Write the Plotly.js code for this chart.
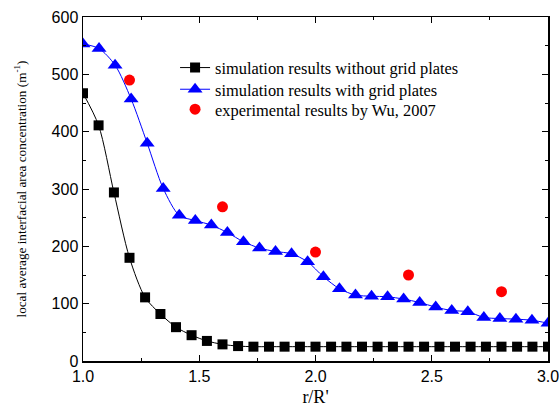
<!DOCTYPE html>
<html>
<head>
<meta charset="utf-8">
<script src="https://cdn.plot.ly/plotly-3.0.1.min.js"></script>
<style>html,body{margin:0;padding:0;background:#fff;}#chart{width:560px;height:408px;}</style>
</head>
<body>
<div id="chart"></div>
<script>
// simulation results without grid plates
const xNoGrid = [1.000, 1.067, 1.133, 1.200, 1.267, 1.333, 1.400, 1.467, 1.533, 1.600,
                 1.667, 1.733, 1.800, 1.867, 1.933, 2.000, 2.067, 2.133, 2.200, 2.267,
                 2.333, 2.400, 2.467, 2.533, 2.600, 2.667, 2.733, 2.800, 2.867, 2.933, 3.000];
const yNoGrid = [467, 411, 294, 180, 111, 82, 59, 45, 35, 29,
                 26, 25, 25, 25, 25, 25, 25, 25, 25, 25,
                 25, 25, 25, 25, 25, 25, 25, 25, 25, 25, 25];
// simulation results with grid plates
const xGrid = [1.000, 1.069, 1.138, 1.207, 1.276, 1.345, 1.414, 1.483, 1.552, 1.621,
               1.690, 1.759, 1.828, 1.897, 1.966, 2.034, 2.103, 2.172, 2.241, 2.310,
               2.379, 2.448, 2.517, 2.586, 2.655, 2.724, 2.793, 2.862, 2.931, 3.000];
const yGrid = [553, 545, 516, 457, 380, 301, 254, 245, 237, 224,
               208, 197, 191, 187, 173, 147, 126, 115, 113, 112,
               108, 102, 94, 88, 86, 76, 74, 73, 71, 66];
// experimental results by Wu, 2007
const xExp = [1.2, 1.6, 2.0, 2.4, 2.8];
const yExp = [490, 269, 190, 150, 121];

const names = ['simulation results without grid plates',
               'simulation results with grid plates',
               'experimental results by Wu, 2007'];

const serif = 'Liberation Serif, Times New Roman, serif';
const sans = 'Liberation Sans, Arial, sans-serif';

const traces = [
  {x: xNoGrid, y: yNoGrid, name: names[0], type: 'scatter', mode: 'lines+markers', legend: 'legend',
   line: {color: '#000000', width: 1, shape: 'spline', smoothing: 0.8},
   marker: {symbol: 'square', size: 10, color: '#000000'}},
  {x: xGrid, y: yGrid, name: names[1], type: 'scatter', mode: 'lines+markers', legend: 'legend2',
   line: {color: '#0000ff', width: 1, shape: 'spline', smoothing: 0.8},
   marker: {symbol: 'triangle-up', size: 13, color: '#0000ff'}},
  {x: xExp, y: yExp, name: names[2], type: 'scatter', mode: 'markers', legend: 'legend3',
   marker: {symbol: 'circle', size: 11, color: '#ff0000'}}
];

const axisCommon = {
  showline: true, linecolor: '#000', linewidth: 1.5, mirror: 'allticks',
  ticks: 'inside', ticklen: 6, tickwidth: 1, tickcolor: '#000',
  showgrid: false, zeroline: false,
  tickfont: {family: sans, size: 16, color: '#000'}
};

function legendAt(yc) {
  return {x: 0.198, y: yc, xanchor: 'left', yanchor: 'middle',
          bgcolor: 'rgba(0,0,0,0)', borderwidth: 0,
          font: {family: serif, size: 16.4, color: '#000'}};
}

const layout = {
  width: 560, height: 408,
  margin: {l: 83, r: 12, t: 17, b: 47},
  paper_bgcolor: '#fff', plot_bgcolor: '#fff',
  showlegend: true,
  legend: legendAt(0.852),
  legend2: legendAt(0.789),
  legend3: legendAt(0.731),
  xaxis: Object.assign({}, axisCommon, {
    range: [1.0, 3.0], tickvals: [1.0, 1.5, 2.0, 2.5, 3.0], ticktext: ['1.0', '1.5', '2.0', '2.5', '3.0'],
    minor: {tickvals: [1.25, 1.75, 2.25, 2.75], ticks: 'inside', ticklen: 3, tickcolor: '#000'},
    title: {text: "r/R'", font: {family: serif, size: 18, color: '#000'}, standoff: 6}
  }),
  yaxis: Object.assign({}, axisCommon, {
    range: [0, 600], tickvals: [0, 100, 200, 300, 400, 500, 600],
    minor: {tickvals: [50, 150, 250, 350, 450, 550], ticks: 'inside', ticklen: 3, tickcolor: '#000'},
    title: {text: 'local average interfacial area concentration (m<sup>-1</sup>)',
            font: {family: serif, size: 13.2, color: '#000'}, standoff: 22}
  })
};

Plotly.newPlot('chart', traces, layout, {displayModeBar: false, staticPlot: true});
</script>
</body>
</html>
